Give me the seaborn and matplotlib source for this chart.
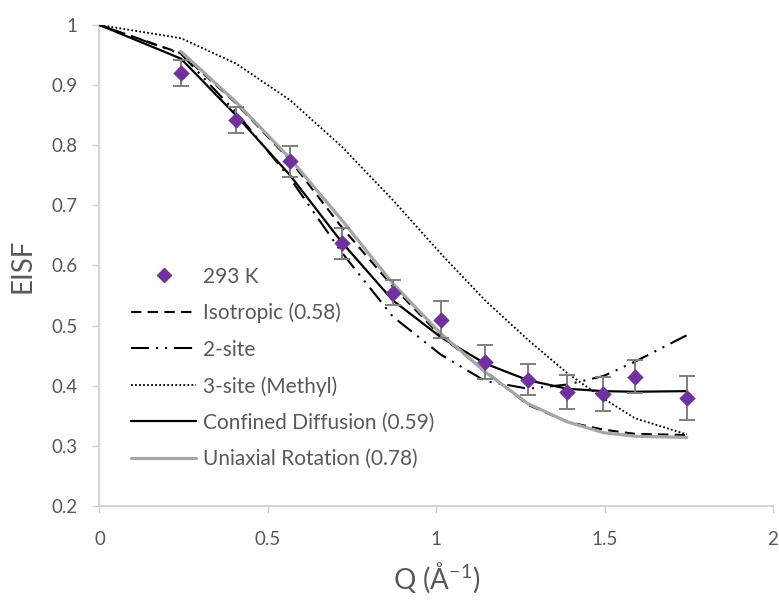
import numpy as np
import pandas as pd
import matplotlib
matplotlib.use("Agg")
import matplotlib.pyplot as plt
from matplotlib.lines import Line2D
import seaborn as sns

# Measured elastic incoherent structure factor at 293 K
q_data = [0.242, 0.405, 0.566, 0.719, 0.871, 1.013, 1.145, 1.273, 1.389, 1.496, 1.590, 1.744]
eisf_data = [0.920, 0.842, 0.773, 0.637, 0.555, 0.510, 0.440, 0.410, 0.390, 0.386, 0.415, 0.380]
eisf_err = [0.021, 0.021, 0.025, 0.026, 0.021, 0.031, 0.028, 0.026, 0.028, 0.028, 0.027, 0.037]

# Model curves evaluated at Q = 0 and at the measured Q values
q_model = [0.0] + q_data
isotropic = [1.0, 0.953, 0.870, 0.775, 0.664, 0.565, 0.483, 0.425, 0.368, 0.340, 0.327, 0.320, 0.318]
two_site = [1.0, 0.952, 0.855, 0.745, 0.622, 0.515, 0.452, 0.408, 0.395, 0.402, 0.416, 0.440, 0.484]
three_site = [1.0, 0.978, 0.936, 0.875, 0.798, 0.709, 0.620, 0.542, 0.476, 0.421, 0.379, 0.346, 0.319]
confined = [1.0, 0.944, 0.850, 0.750, 0.639, 0.542, 0.481, 0.437, 0.409, 0.395, 0.391, 0.390, 0.391]
q_uniaxial = q_data
uniaxial = [0.956, 0.872, 0.778, 0.676, 0.570, 0.487, 0.423, 0.370, 0.340, 0.322, 0.316, 0.314]

series_labels = ["Isotropic (0.58)", "2-site", "3-site (Methyl)",
                 "Confined Diffusion (0.59)", "Uniaxial Rotation (0.78)"]
data_label = "293 K"

x_ticks = [0, 0.5, 1, 1.5, 2]
x_tick_labels = ["0", "0.5", "1", "1.5", "2"]
y_ticks = [0.2, 0.3, 0.4, 0.5, 0.6, 0.7, 0.8, 0.9, 1.0]
y_tick_labels = ["0.2", "0.3", "0.4", "0.5", "0.6", "0.7", "0.8", "0.9", "1"]

sns.set_style("white")
plt.rcParams["font.family"] = ["Lato", "DejaVu Sans"]
plt.rcParams["mathtext.fontset"] = "custom"
plt.rcParams["mathtext.rm"] = "Lato"
plt.rcParams["mathtext.it"] = "Lato:italic"
plt.rcParams["lines.scale_dashes"] = False

TEXT = "#595959"
AXIS = "#d0d0d0"
PURPLE = "#7030a0"
GREY_LINE = "#a6a6a6"
ERR = "#7f7f7f"

fig = plt.figure(figsize=(7.79, 6.08), dpi=100)
ax = fig.add_axes([0.1277, 0.1678, 0.8646, 0.7911])

styles = [
    (isotropic, q_model, "black", 1.5, (0, (7.5, 4.5))),
    (two_site, q_model, "black", 1.5, (0, (13, 5, 1.5, 5, 1.5, 5))),
    (three_site, q_model, "black", 1.3, (0, (1.3, 1.6))),
    (confined, q_model, "black", 1.6, "-"),
    (uniaxial, q_uniaxial, GREY_LINE, 2.3, "-"),
]

handles = []
for (vals, qs, col, lw, ls), lab in zip(styles, series_labels):
    df = pd.DataFrame({"Q": qs, "EISF": vals})
    sns.lineplot(data=df, x="Q", y="EISF", ax=ax, color=col, linewidth=lw,
                 linestyle=ls, sort=False, estimator=None, zorder=3, legend=False)
    handles.append(Line2D([], [], color=col, lw=lw, linestyle=ls, label=lab))

ax.errorbar(q_data, eisf_data, yerr=eisf_err, fmt="none", ecolor=ERR,
            elinewidth=1.4, capsize=6, capthick=1.4, zorder=4)
pts = pd.DataFrame({"Q": q_data, "EISF": eisf_data})
sns.scatterplot(data=pts, x="Q", y="EISF", ax=ax, marker="D", s=70,
                color=PURPLE, edgecolor=PURPLE, linewidth=0, zorder=5, legend=False)
data_handle = Line2D([], [], linestyle="none", marker="D", markersize=7,
                     markerfacecolor=PURPLE, markeredgecolor=PURPLE, label=data_label)

ax.set_xlim(0, 2)
ax.set_ylim(0.2, 1.0)
ax.set_xticks(x_ticks)
ax.set_xticklabels(x_tick_labels)
ax.set_yticks(y_ticks)
ax.set_yticklabels(y_tick_labels)

for side in ["top", "right"]:
    ax.spines[side].set_visible(False)
for side in ["left", "bottom"]:
    ax.spines[side].set_color(AXIS)
    ax.spines[side].set_linewidth(1.3)

ax.tick_params(axis="both", which="major", direction="out", length=5,
               width=1.0, color=AXIS, labelcolor=TEXT, labelsize=13.5)
ax.tick_params(axis="x", pad=13)
ax.tick_params(axis="y", pad=11)
ax.tick_params(left=True, bottom=True)

ax.set_xlabel(r"Q (Å$^{-1}$)", fontsize=20, color=TEXT, labelpad=9)
ax.set_ylabel("EISF", fontsize=20, color=TEXT, labelpad=11)

leg = ax.legend(handles=[data_handle] + handles, loc="upper left",
                bbox_to_anchor=(0.035, 0.515), frameon=False, fontsize=15,
                handlelength=3.1, handletextpad=0.35, labelspacing=0.78,
                borderaxespad=0)
for t in leg.get_texts():
    t.set_color(TEXT)

fig.savefig("out.png", dpi=100)
